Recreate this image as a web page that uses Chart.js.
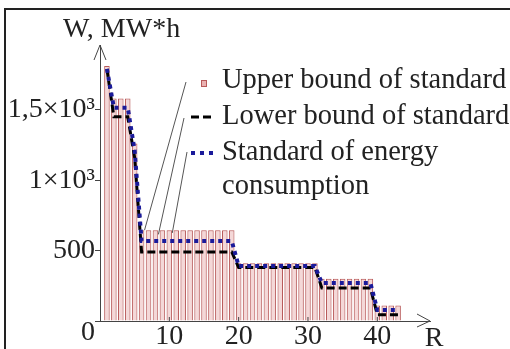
<!DOCTYPE html>
<html>
<head>
<meta charset="utf-8">
<script src="https://cdn.jsdelivr.net/npm/chart.js@4/dist/chart.umd.min.js"></script>
<style>
html,body{margin:0;padding:0;background:#fff;}
#wrap{position:relative;width:510px;height:349px;}
</style>
</head>
<body>
<div id="wrap"><canvas id="c" width="510" height="349"></canvas></div>
<script>
const R = [1,2,3,4,5,6,7,8,9,10,11,12,13,14,15,16,17,18,19,20,21,22,23,24,25,26,27,28,29,30,31,32,33,34,35,36,37,38,39,40,41,42,43];
const upperBound = [1810,1580,1580,1580,1260,
  645,645,645,645,645,645,645,645,645,645,645,645,645,645,
  410,410,410,410,410,410,410,410,410,410,410,410,
  300,300,300,300,300,300,300,300,
  110,110,110,110];
const standard = [1790,1515,1515,1515,1210,
  568,568,568,568,568,568,568,568,568,568,568,568,568,568,
  390,390,390,390,390,390,390,390,390,390,390,390,
  270,270,270,270,270,270,270,270,
  78,78,78,78];
const lowerBound = [1790,1450,1450,1450,1160,
  490,490,490,490,490,490,490,490,490,490,490,490,490,490,
  380,380,380,380,380,380,380,380,380,380,380,380,
  235,235,235,235,235,235,235,235,
  45,45,45,45];
const xTicks = [10,20,30,40];
const yTicks = [0,500,1000,1500];
const yTickLabels = {0:'', 500:'500', 1000:'1×10³', 1500:'1,5×10³'};
const legendLabels = ['Upper bound of standard','Lower bound of standard','Standard of energy','consumption'];
const axisTitleY = 'W, MW*h';
const axisTitleX = 'R';

const FONT = '"Liberation Serif", "Times New Roman", serif';
const AX = '#444';
const BLUE = '#1a1a9a';

const decor = {
  id:'decor',
  afterDraw(chart){
    const ctx = chart.ctx, a = chart.chartArea;
    const xs = chart.scales.x, ys = chart.scales.y;
    ctx.save();
    // frame
    ctx.strokeStyle = '#222'; ctx.lineWidth = 2;
    ctx.beginPath(); ctx.moveTo(5, 349); ctx.lineTo(5, 9); ctx.lineTo(510, 9); ctx.stroke();
    // arrows
    ctx.strokeStyle = AX; ctx.lineWidth = 1;
    ctx.beginPath();
    ctx.moveTo(a.left-6, a.top+15); ctx.lineTo(a.left, a.top); ctx.lineTo(a.left+6, a.top+15);
    ctx.moveTo(a.right-13, a.bottom-7); ctx.lineTo(a.right, a.bottom); ctx.lineTo(a.right-13, a.bottom+6);
    ctx.stroke();
    // x inward ticks
    ctx.beginPath();
    xTicks.forEach(v=>{const px = xs.getPixelForValue(v); ctx.moveTo(px, a.bottom); ctx.lineTo(px, a.bottom-4);});
    ctx.stroke();
    // texts
    ctx.fillStyle = '#222';
    ctx.font = '28px ' + FONT;
    ctx.textAlign = 'center'; ctx.textBaseline = 'middle';
    ctx.fillText('0', 88, 333);
    ctx.fillText(axisTitleX, 434, 339);
    ctx.textAlign = 'left'; ctx.textBaseline = 'alphabetic';
    ctx.font = '28px ' + FONT;
    ctx.fillText(axisTitleY, 63, 37);
    // legend
    ctx.font = '28.5px ' + FONT;
    ctx.textBaseline = 'middle';
    const lx = 222, rows = [81, 117, 153, 187];
    legendLabels.forEach((t,i)=>ctx.fillText(t, lx, rows[i]));
    // legend markers
    ctx.fillStyle = 'rgba(232,170,170,0.9)'; ctx.strokeStyle = '#b85a5a'; ctx.lineWidth = 1;
    ctx.fillRect(201.5, 80.5, 5, 6); ctx.strokeRect(201.5, 80.5, 5, 6);
    ctx.strokeStyle = '#000'; ctx.lineWidth = 3; ctx.setLineDash([8,4]);
    ctx.beginPath(); ctx.moveTo(191, 117); ctx.lineTo(215, 117); ctx.stroke();
    ctx.strokeStyle = BLUE; ctx.lineWidth = 4; ctx.setLineDash([4,5]);
    ctx.beginPath(); ctx.moveTo(191, 153); ctx.lineTo(215, 153); ctx.stroke();
    ctx.setLineDash([]);
    // leader lines (anchored to bars through the scales)
    ctx.strokeStyle = '#555'; ctx.lineWidth = 1;
    const anchors = [[R[6], upperBound[6]],[R[8], upperBound[8]-30],[R[10], upperBound[10]-20]];
    const starts = [[186, 82],[184, 118],[187, 152]];
    ctx.beginPath();
    anchors.forEach((an,i)=>{
      const px = xs.getPixelForValue(an[0]) - 4, py = ys.getPixelForValue(an[1]) ;
      ctx.moveTo(starts[i][0], starts[i][1]); ctx.lineTo(px, py);
    });
    ctx.stroke();
    ctx.restore();
  }
};

new Chart(document.getElementById('c'), {
  type: 'bar',
  data: {
    datasets: [
      {
        type: 'line', label: legendLabels[2],
        data: R.map((r,i)=>({x:r, y:standard[i]})),
        borderColor: BLUE, borderWidth: 4, borderDash: [4,4],
        pointRadius: 0, fill: false, tension: 0, order: 1
      },
      {
        type: 'line', label: legendLabels[1],
        data: R.map((r,i)=>({x:r, y:lowerBound[i]})),
        borderColor: '#000', borderWidth: 3, borderDash: [8,4],
        pointRadius: 0, fill: false, tension: 0, order: 2
      },
      {
        type: 'bar', label: legendLabels[0],
        data: R.map((r,i)=>({x:r, y:upperBound[i]})),
        backgroundColor: 'rgba(236,190,190,0.6)', borderColor: '#b85a5a', borderWidth: 1,
        barPercentage: 0.8, categoryPercentage: 1.0, order: 3
      }
    ]
  },
  options: {
    responsive: false, animation: false,
    layout: { padding: { left: 0, right: 80, top: 45, bottom: 0 } },
    plugins: { legend: { display: false }, tooltip: { enabled: false }, title: { display: false } },
    scales: {
      x: {
        type: 'linear', min: 0, max: 47.6, offset: false,
        afterFit(s){ s.height = 28; },
        afterBuildTicks(s){ s.ticks = xTicks.map(v=>({value:v})); },
        grid: { display: false },
        border: { display: true, color: AX, width: 1 },
        ticks: { color: '#222', padding: -9, font: { family: FONT, size: 28 }, maxRotation: 0, autoSkip: false }
      },
      y: {
        min: 0, max: 1960,
        afterFit(s){ s.width = 100; },
        afterBuildTicks(s){ s.ticks = yTicks.map(v=>({value:v})); },
        grid: { display: true, drawOnChartArea: false, drawTicks: true, tickLength: 5, color: AX },
        border: { display: true, color: AX, width: 1 },
        ticks: { color: '#222', padding: 0, font: { family: FONT, size: 28 }, autoSkip: false,
          callback: v => yTickLabels[v] }
      }
    }
  },
  plugins: [decor]
});
</script>
</body>
</html>
